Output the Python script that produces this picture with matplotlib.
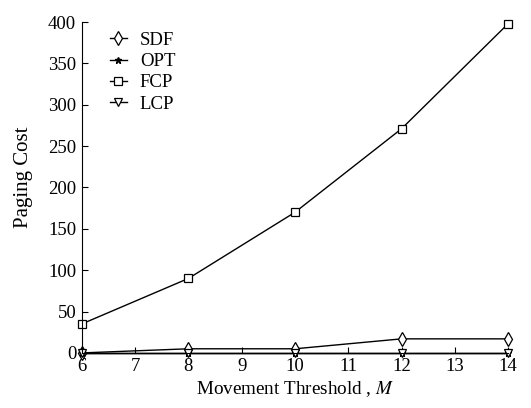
import matplotlib.pyplot as plt

plt.rcParams["font.family"] = ["Liberation Serif", "DejaVu Serif"]
plt.rcParams["mathtext.fontset"] = "stix"

thresholds = [6, 8, 10, 12, 14]
sdf = [0, 5, 5, 17, 17]
opt = [0, 0, 0, 0, 0]
fcp = [35, 90, 170, 271, 398]
lcp = [0, 0, 0, 0, 0]

fig = plt.figure(figsize=(5.31, 4.08), dpi=100)
ax = fig.add_axes([0.154, 0.135, 0.803, 0.811])

style = dict(color="black", linewidth=1.0, clip_on=False)
ax.plot(thresholds, sdf, marker="d", markersize=7, markerfacecolor="white",
        markeredgewidth=0.9, label="SDF", **style)
ax.plot(thresholds, opt, marker="*", markersize=5, label="OPT", **style)
ax.plot(thresholds, fcp, marker="s", markersize=5.5, markerfacecolor="white",
        markeredgewidth=0.9, label="FCP", **style)
ax.plot(thresholds, lcp, marker="v", markersize=6, markerfacecolor="white",
        markeredgewidth=0.9, label="LCP", **style)

ax.set_xlim(6, 14)
ax.set_ylim(0, 400)
ax.set_xticks(range(6, 15))
ax.set_yticks(range(0, 401, 50))
ax.tick_params(direction="in", length=4, width=0.8, labelsize=13.5, pad=4)
for side in ["top", "right"]:
    ax.spines[side].set_visible(False)

ax.set_xlabel("Movement Threshold , $M$", fontsize=13.8, labelpad=3)
ax.set_ylabel("Paging Cost", fontsize=15)
ax.yaxis.set_label_coords(-0.115, 0.53)

ax.legend(loc="upper left", bbox_to_anchor=(0.035, 1.01), frameon=False,
          fontsize=13.5, handlelength=0.9, handletextpad=0.7,
          labelspacing=0.22, borderaxespad=0.3)

fig.savefig("out.png", dpi=100)
